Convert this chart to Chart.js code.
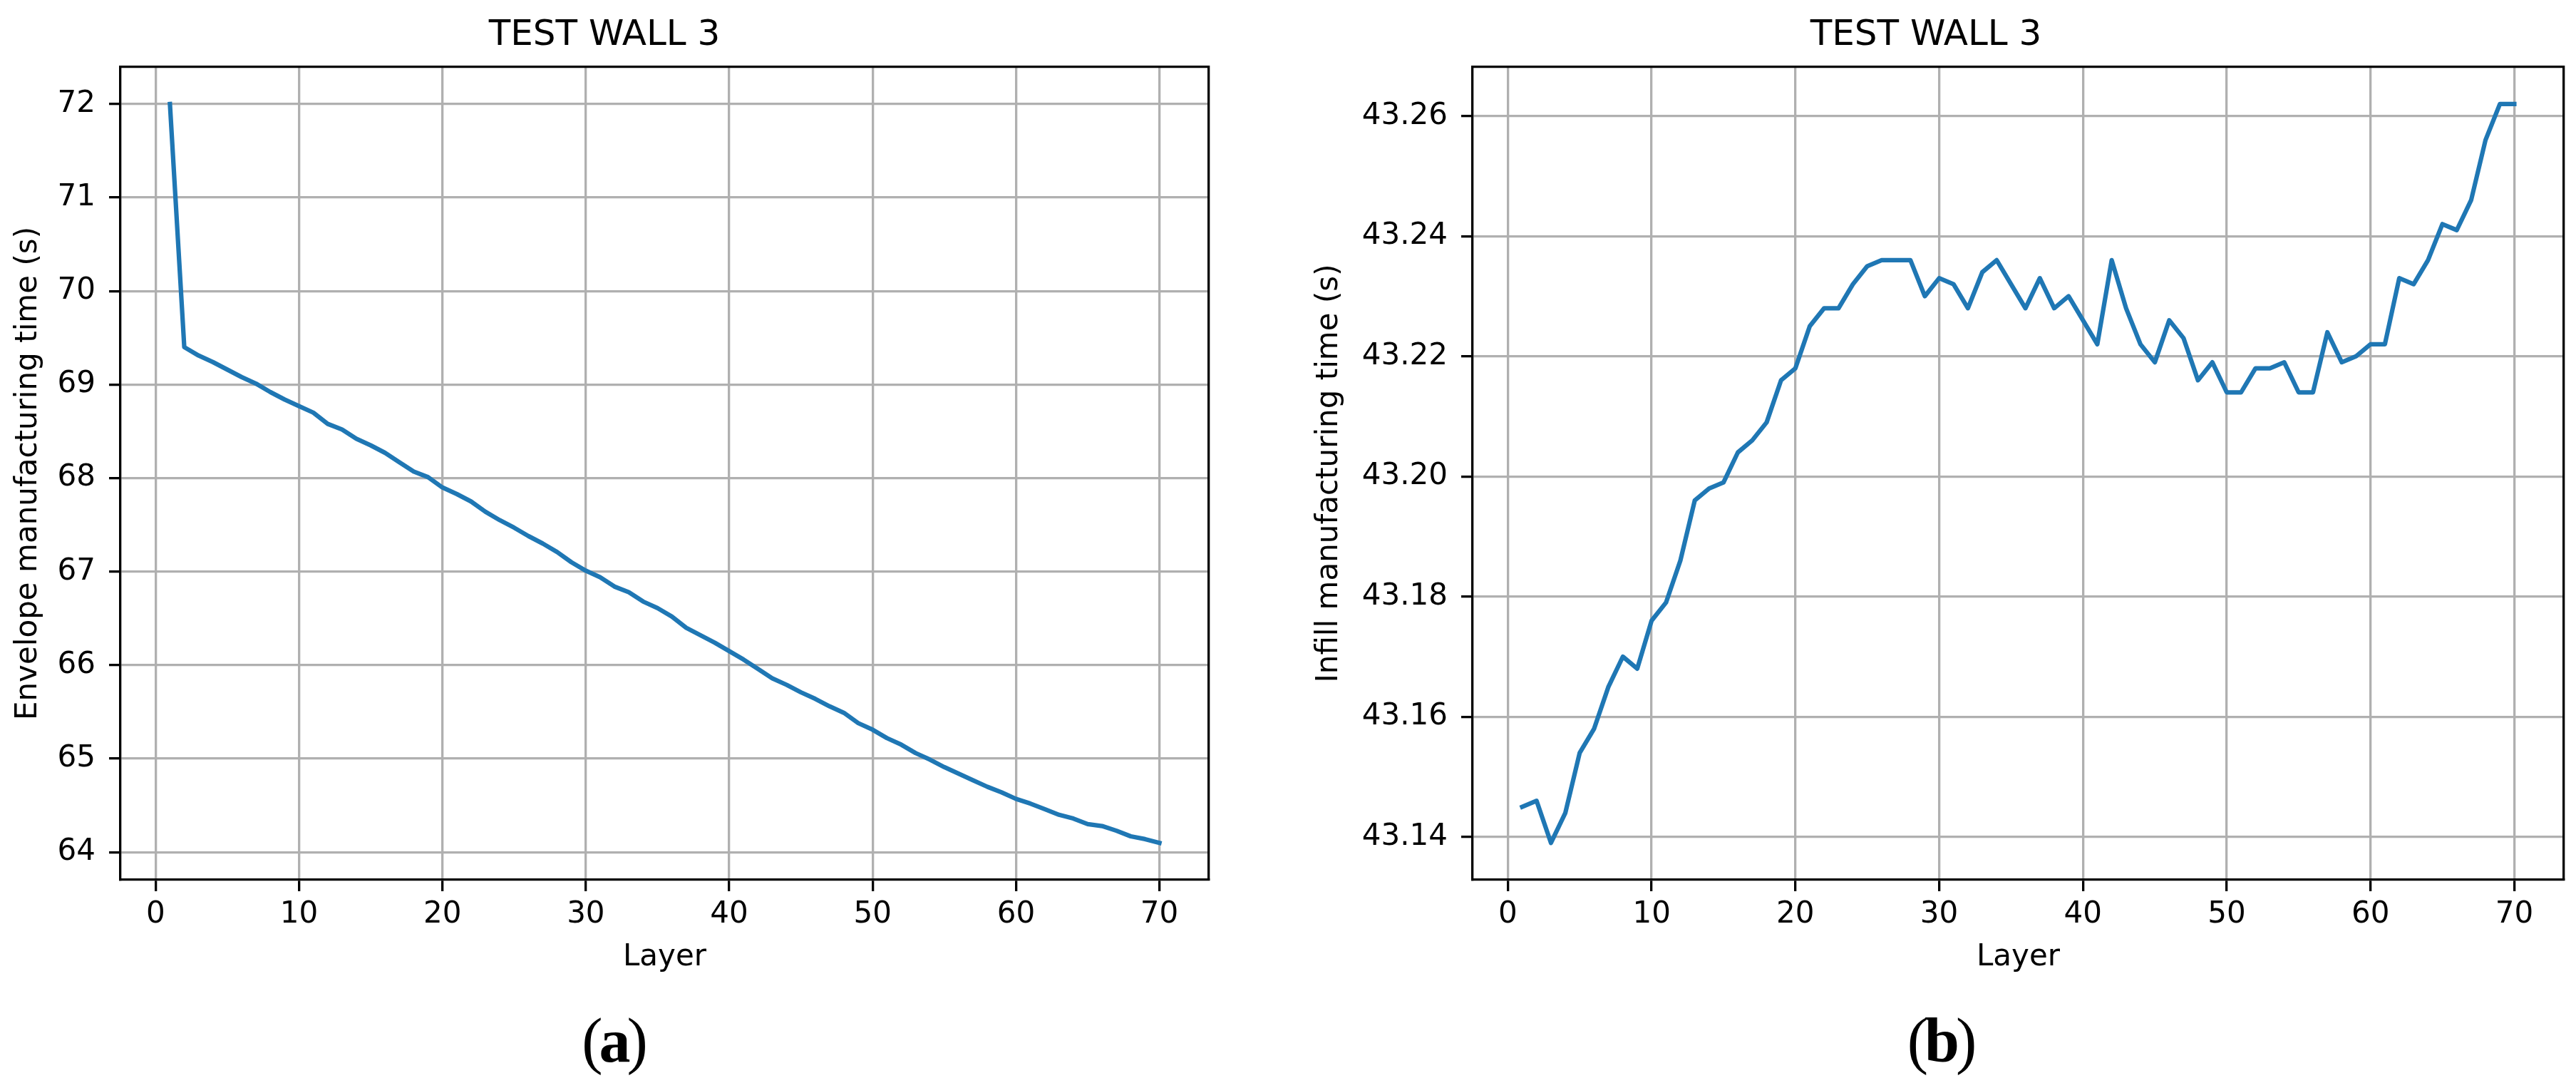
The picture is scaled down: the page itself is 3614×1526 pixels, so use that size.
<!DOCTYPE html>
<html>
<head>
<meta charset="utf-8">
<script src="https://cdn.jsdelivr.net/npm/chart.js@4.4.0/dist/chart.umd.min.js"></script>
<style>
  body { margin: 0; background: #fff; width: 3614px; height: 1526px; position: relative; overflow: hidden; }
  .panel { position: absolute; top: 0; height: 1400px; }
  .cap {
    position: absolute; top: 1416px; color: #000;
    font-family: "Liberation Serif", serif; font-size: 88px; line-height: 1;
    letter-spacing: -5px;
    transform: translateX(-50%); white-space: nowrap;
  }
</style>
</head>
<body>
<div class="panel" style="left:0;width:1800px"><canvas id="envelopeChart" width="1800" height="1400"></canvas></div>
<div class="panel" style="left:1807px;width:1807px"><canvas id="infillChart" width="1807" height="1400"></canvas></div>
<div class="cap" style="left:860px">(<b>a</b>)</div>
<div class="cap" style="left:2722px">(<b>b</b>)</div>

<script>
// layer numbers (x values)
const layers = [
  1, 2, 3, 4, 5, 6, 7, 8, 9, 10,
  11, 12, 13, 14, 15, 16, 17, 18, 19, 20,
  21, 22, 23, 24, 25, 26, 27, 28, 29, 30,
  31, 32, 33, 34, 35, 36, 37, 38, 39, 40,
  41, 42, 43, 44, 45, 46, 47, 48, 49, 50,
  51, 52, 53, 54, 55, 56, 57, 58, 59, 60,
  61, 62, 63, 64, 65, 66, 67, 68, 69, 70,
];

// envelope manufacturing time (s), panel (a)
const envelopeTime = [
  72.00, 69.40, 69.31, 69.24, 69.16, 69.08, 69.01, 68.92, 68.84, 68.77,
  68.70, 68.58, 68.52, 68.42, 68.35, 68.27, 68.17, 68.07, 68.01, 67.90,
  67.83, 67.75, 67.64, 67.55, 67.47, 67.38, 67.30, 67.21, 67.10, 67.01,
  66.94, 66.84, 66.78, 66.68, 66.61, 66.52, 66.40, 66.32, 66.24, 66.15,
  66.06, 65.96, 65.86, 65.79, 65.71, 65.64, 65.56, 65.49, 65.38, 65.31,
  65.22, 65.15, 65.06, 64.99, 64.91, 64.84, 64.77, 64.70, 64.64, 64.57,
  64.52, 64.46, 64.40, 64.36, 64.30, 64.28, 64.23, 64.17, 64.14, 64.10,
];

// infill manufacturing time (s), panel (b)
const infillTime = [
  43.145, 43.146, 43.139, 43.144, 43.154, 43.158, 43.165, 43.170, 43.168, 43.176,
  43.179, 43.186, 43.196, 43.198, 43.199, 43.204, 43.206, 43.209, 43.216, 43.218,
  43.225, 43.228, 43.228, 43.232, 43.235, 43.236, 43.236, 43.236, 43.230, 43.233,
  43.232, 43.228, 43.234, 43.236, 43.232, 43.228, 43.233, 43.228, 43.230, 43.226,
  43.222, 43.236, 43.228, 43.222, 43.219, 43.226, 43.223, 43.216, 43.219, 43.214,
  43.214, 43.218, 43.218, 43.219, 43.214, 43.214, 43.224, 43.219, 43.220, 43.222,
  43.222, 43.233, 43.232, 43.236, 43.242, 43.241, 43.246, 43.256, 43.262, 43.262,
];

// tick labels
const xTickValues = [0, 10, 20, 30, 40, 50, 60, 70];
const envelopeTicks = [64, 65, 66, 67, 68, 69, 70, 71, 72];
const infillTicks = [43.14, 43.16, 43.18, 43.20, 43.22, 43.24, 43.26];

const panelTitle = "TEST WALL 3";
const xTitle = "Layer";

Chart.defaults.font.family = "'DejaVu Sans', sans-serif";
Chart.defaults.color = "#000";

const GRID = "#b0b0b0";
const LW = 3.3;

function renderPanel(canvasId, values, cfg) {
  const points = layers.map((layer, i) => ({ x: layer, y: values[i] }));
  const ctx = document.getElementById(canvasId).getContext("2d");

  const frame = { color: "#000", width: LW };
  const gridOpts = { color: GRID, lineWidth: LW, tickColor: "#000", tickWidth: LW, tickLength: 16 };

  new Chart(ctx, {
    type: "line",
    data: {
      datasets: [
        {
          data: points,
          borderColor: "#1f77b4",
          borderWidth: 6.25,
          borderJoinStyle: "round",
          borderCapStyle: "square",
          pointRadius: 0,
          tension: 0,
          fill: false,
        },
      ],
    },
    options: {
      responsive: false,
      animation: false,
      devicePixelRatio: 1,
      events: [],
      layout: { padding: { left: 0, right: cfg.rightPad, top: 0, bottom: 0 } },
      plugins: {
        legend: { display: false },
        tooltip: { enabled: false },
        title: {
          display: true,
          text: panelTitle,
          color: "#000",
          font: { size: 50, weight: "normal" },
          padding: { top: 20, bottom: 14 },
        },
      },
      scales: {
        x: {
          type: "linear",
          position: "bottom",
          min: -2.45,
          max: 73.45,
          bounds: "data",
          afterBuildTicks: (s) => { s.ticks = xTickValues.map((v) => ({ value: v })); },
          afterFit: (s) => { s.height = 166; },
          ticks: { font: { size: 42 }, color: "#000", padding: 8, autoSkip: false, maxRotation: 0, callback: (v) => String(v) },
          grid: gridOpts,
          border: frame,
          title: { display: true, text: xTitle, color: "#000", font: { size: 42 }, padding: { top: 0, bottom: 32 } },
        },
        y: {
          type: "linear",
          position: "left",
          min: cfg.yMin,
          max: cfg.yMax,
          bounds: "data",
          afterBuildTicks: (s) => { s.ticks = cfg.yTicks.map((v) => ({ value: v })); },
          afterFit: (s) => { s.width = cfg.yWidth; },
          ticks: { font: { size: 42 }, color: "#000", padding: 19, autoSkip: false, callback: (v) => v.toFixed(cfg.decimals) },
          grid: gridOpts,
          border: frame,
          title: { display: true, text: cfg.yTitle, color: "#000", font: { size: 42 }, padding: { top: cfg.yTitlePad, bottom: 0 } },
        },
        // top and right spines
        xTop: {
          type: "linear",
          position: "top",
          min: -2.45,
          max: 73.45,
          afterFit: (s) => { s.height = 0; },
          ticks: { display: false },
          grid: { drawOnChartArea: false, drawTicks: false },
          border: frame,
        },
        yRight: {
          type: "linear",
          position: "right",
          min: cfg.yMin,
          max: cfg.yMax,
          afterFit: (s) => { s.width = 0; },
          ticks: { display: false },
          grid: { drawOnChartArea: false, drawTicks: false },
          border: frame,
        },
      },
    },
  });
}

renderPanel("envelopeChart", envelopeTime, {
  yMin: 63.705, yMax: 72.395, yTicks: envelopeTicks, decimals: 0,
  yTitle: "Envelope manufacturing time (s)", yWidth: 169, yTitlePad: 15, rightPad: 104,
});

renderPanel("infillChart", infillTime, {
  yMin: 43.13285, yMax: 43.26815, yTicks: infillTicks, decimals: 2,
  yTitle: "Infill manufacturing time (s)", yWidth: 259, yTitlePad: 33, rightPad: 17,
});
</script>
</body>
</html>
